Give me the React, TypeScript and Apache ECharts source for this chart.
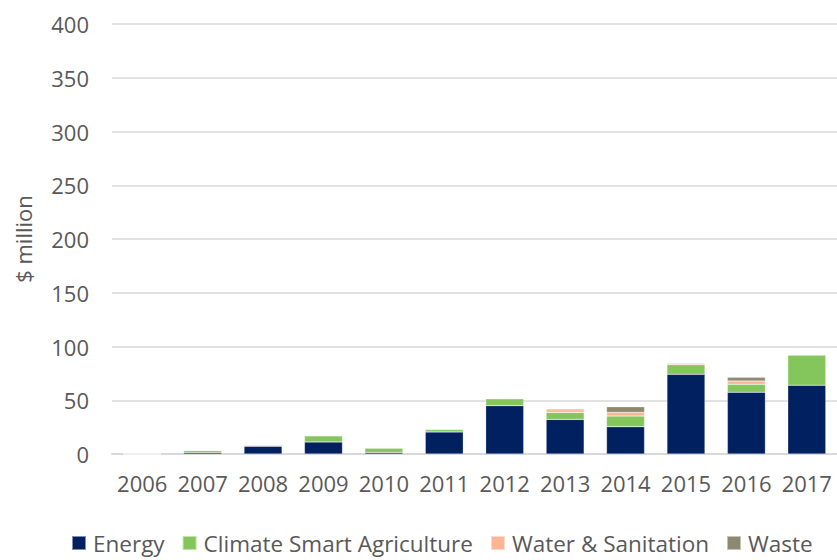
import React, { useEffect, useRef } from "react";
import * as echarts from "echarts";

const years = ["2006", "2007", "2008", "2009", "2010", "2011", "2012", "2013", "2014", "2015", "2016", "2017"];
const energy = [0, 1.5, 7.3, 11.2, 1.5, 20.5, 45.0, 32.2, 25.4, 74.1, 57.4, 64.0];
const agriculture = [0, 1.8, 0.4, 5.8, 4.1, 2.2, 6.5, 6.5, 9.9, 8.9, 7.4, 28.2];
const water = [0, 0, 0.9, 0, 0, 0.9, 0, 2.5, 3.4, 1.5, 3.1, 0];
const waste = [0, 0, 0, 0, 0, 0, 0, 1.0, 5.3, 0.3, 3.4, 0];

const textColor = "#595959";
const font = "'Open Sans', 'Noto Sans', sans-serif";

export default function App() {
  const ref = useRef<HTMLDivElement>(null);
  useEffect(() => {
    const chart = echarts.init(ref.current!, null, { renderer: "svg" });
    const mk = (name: string, data: number[], color: string) => ({
      name,
      type: "bar",
      stack: "total",
      data,
      barWidth: 38,
      itemStyle: { color, borderColor: "rgba(255,255,255,0.5)", borderWidth: 0.5 },
    });
    chart.setOption({
      animation: false,
      textStyle: { fontFamily: font },
      grid: { left: 112, right: -5, top: 24, bottom: 106 },
      legend: {
        left: 66,
        top: 526,
        itemWidth: 14,
        itemHeight: 14,
        itemGap: 17,
        icon: "rect",
        textStyle: { fontSize: 22.5, lineHeight: 24, color: textColor, fontFamily: font, padding: [0, 0, 0, 2] },
        data: ["Energy", "Climate Smart Agriculture", "Water & Sanitation", "Waste"],
      },
      xAxis: {
        type: "category",
        data: years,
        axisLine: { lineStyle: { color: "#d9d9d9", width: 2 } },
        axisTick: { show: false },
        axisLabel: { fontSize: 22, color: textColor, margin: 18, fontFamily: font, interval: 0 },
      },
      yAxis: {
        type: "value",
        min: 0,
        max: 400,
        interval: 50,
        name: "$ million",
        nameLocation: "middle",
        nameGap: 78,
        nameTextStyle: { fontSize: 22, color: textColor, fontFamily: font },
        axisLine: { show: false },
        axisTick: { show: false },
        axisLabel: { fontSize: 22, color: textColor, margin: 23, fontFamily: font },
        splitLine: { lineStyle: { color: "#d9d9d9", width: 1.5 } },
      },
      series: [
        mk("Energy", energy, "#002060"),
        mk("Climate Smart Agriculture", agriculture, "#84c65c"),
        mk("Water & Sanitation", water, "#fdb495"),
        mk("Waste", waste, "#8b8a71"),
      ],
    });
    return () => chart.dispose();
  }, []);
  return <div ref={ref} style={{ position: "absolute", left: 0, top: 0, width: 837, height: 560 }} />;
}
